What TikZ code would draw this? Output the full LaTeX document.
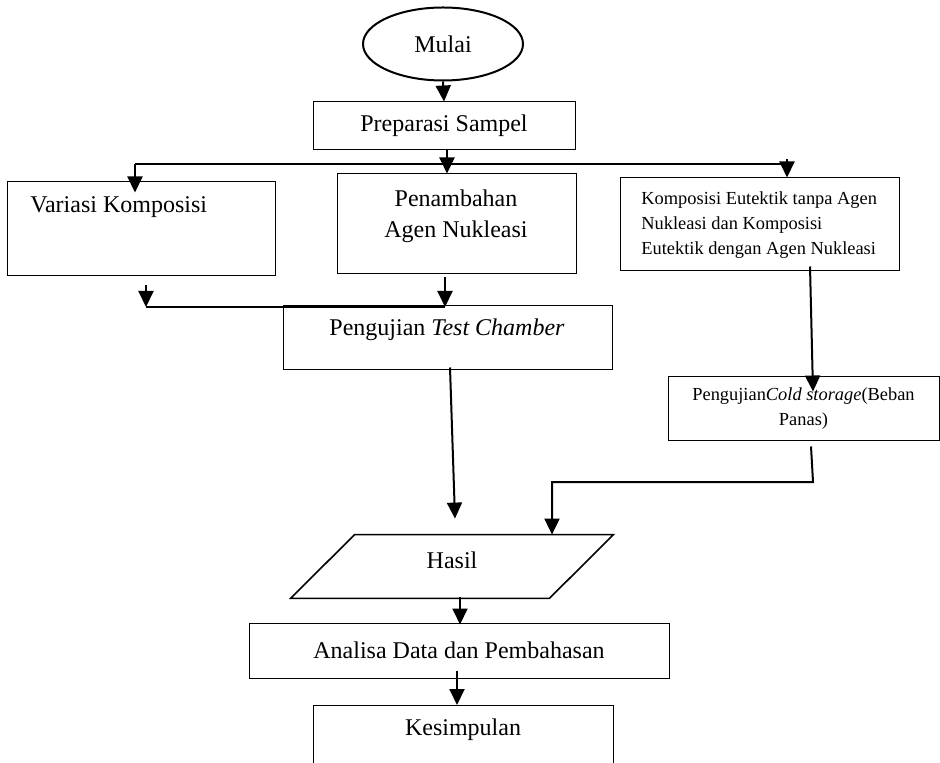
\documentclass[tikz,border=0pt]{standalone}
\usepackage{fontspec}
\setmainfont{Liberation Serif}
\usetikzlibrary{shapes.geometric,arrows.meta,calc}
\begin{document}
\begin{tikzpicture}[x=0.5pt,y=-0.5pt,
  box/.style={draw, line width=0.5pt, rectangle, inner sep=0pt},
  conn/.style={line width=1pt},
  arr/.style={line width=1pt,-{Triangle[length=8pt,width=7.5pt]}},
  txt/.style={font=\fontsize{12}{15.5}\selectfont, inner sep=0pt, align=center},
  small/.style={font=\fontsize{9.2}{12.5}\selectfont, inner sep=0pt}]
\useasboundingbox (0,0) rectangle (940,763);
\fill[white] (0,0) rectangle (940,763);
\clip (0,0) rectangle (940,763);
% nodes
\node[draw, ellipse, line width=1pt, minimum width=80pt, minimum height=36.5pt, inner sep=0pt, txt] (mulai) at (443,44) {Mulai};
\node[box, minimum width=131pt, minimum height=24pt, txt] (prep) at (444,126) {Preparasi Sampel};
\node[box, minimum width=134pt, minimum height=47pt] (var) at (141,229) {};
\node[txt, anchor=west] (varT) at (30,207) {Variasi Komposisi};
\node[box, minimum width=119.5pt, minimum height=50pt] (pen) at (456.5,224) {};
\node[txt] (penT) at (456,216) {Penambahan\\Agen Nukleasi};
\node[box, minimum width=139.5pt, minimum height=46.5pt] (kom) at (759.5,224.5) {};
\node[small, anchor=west, align=left] (komT) at (641,225) {Komposisi Eutektik tanpa Agen\\Nukleasi dan Komposisi\\Eutektik dengan Agen Nukleasi};
\node[box, minimum width=164.5pt, minimum height=32pt] (tc) at (447.5,338) {};
\node[txt] (tcT) at (447,330) {Pengujian \textit{Test Chamber}};
\node[box, minimum width=135.5pt, minimum height=32pt, small, align=center] (cs) at (803.5,409) {Pengujian\textit{Cold storage}(Beban\\Panas)};
% Hasil: parallelogram (bounding node, outline drawn below)
\node[rectangle, inner sep=0pt, minimum width=161pt, minimum height=31.5pt] (hasil) at (452,566.5) {};
\draw[line width=0.8pt, line join=miter] (hasil.south west) -- ($(hasil.south east)+(-64,0)$) -- (hasil.north east) -- ($(hasil.north west)+(64,0)$) -- cycle;
\node[txt] (hasilT) at (452,560) {Hasil};
\node[box, minimum width=210pt, minimum height=27.5pt, txt] (ana) at (459,650.5) {Analisa Data dan Pembahasan};
\node[box, anchor=north, minimum width=150pt, minimum height=50pt] (kes) at (463,705) {};
\node[txt] (kesT) at (463,730) {Kesimpulan};
% coordinates
\coordinate (busL) at (135,164);
\coordinate (busR) at (787,164);
\coordinate (pp) at (447,150);
\coordinate (b2L) at (146,307);
\coordinate (b2R) at (445,307);
\coordinate (c1) at (813,482);
\coordinate (c2) at (552,482);
% connectors
\draw[arr] (mulai.south) -- (prep.north);
\draw[conn] (busL) -- (busR);
\draw[arr] (pp) -- (pp |- pen.north);
\draw[arr] (busL) -- ($(busL |- var.north)+(0,11)$);
\draw[arr] ($(busR)+(0,-5)$) -- (busR |- kom.north);
\draw[conn] (b2L) -- (b2R);
\draw[arr] ($(b2L)+(0,-22)$) -- (b2L);
\draw[arr] ($(b2R |- pen.south)+(0,3)$) -- (b2R);
\draw[arr] ($(tc.south)+(2.5,-3)$) -- ($(hasil.north)+(3,-16)$);
\draw[arr] ($(kom.south)+(50.5,-5)$) -- ($(cs.north)+(9.5,15)$);
\draw[arr] ($(cs.south)+(7.5,5)$) -- (c1) -- (c2) -- (c2 |- hasil.north);
\draw[arr] ($(hasil.south)+(8,-1)$) -- ($(hasil.south |- ana.north)+(8,2)$);
\draw[arr] ($(ana.south)+(-2,-8)$) -- ($(kes.north)+(-6,0)$);
\end{tikzpicture}
\end{document}
